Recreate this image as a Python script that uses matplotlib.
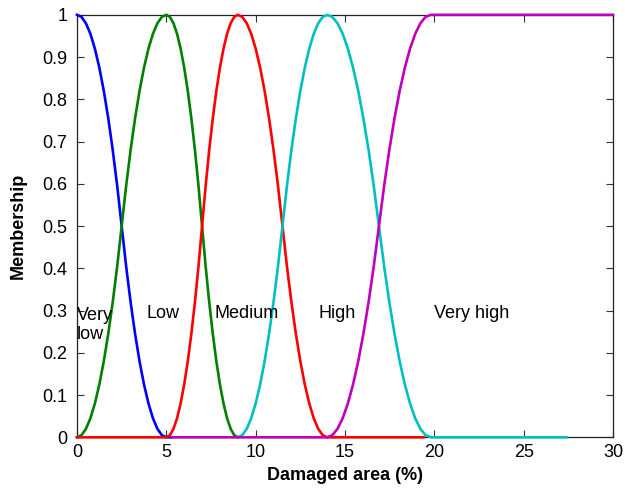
import matplotlib.pyplot as plt

plt.rcParams['font.family'] = ['Liberation Sans', 'DejaVu Sans']
plt.rcParams['font.size'] = 13

# membership readings along one S-shaped flank (0 -> 1)
rise = [0, 0.005, 0.02, 0.045, 0.08, 0.125, 0.18, 0.245, 0.32, 0.405, 0.5,
        0.595, 0.68, 0.755, 0.82, 0.875, 0.92, 0.955, 0.98, 0.995, 1]
fall = rise[::-1]

very_low_x = [0, 0.25, 0.5, 0.75, 1, 1.25, 1.5, 1.75, 2, 2.25, 2.5, 2.75, 3,
              3.25, 3.5, 3.75, 4, 4.25, 4.5, 4.75, 5, 5.3]
very_low_y = fall + [0]

low_x = [0, 0.25, 0.5, 0.75, 1, 1.25, 1.5, 1.75, 2, 2.25, 2.5, 2.75, 3,
         3.25, 3.5, 3.75, 4, 4.25, 4.5, 4.75, 5,
         5.2, 5.4, 5.6, 5.8, 6, 6.2, 6.4, 6.6, 6.8, 7, 7.2, 7.4, 7.6, 7.8,
         8, 8.2, 8.4, 8.6, 8.8, 9]
low_y = rise + fall[1:]

medium_x = [0, 5, 5.2, 5.4, 5.6, 5.8, 6, 6.2, 6.4, 6.6, 6.8, 7, 7.2, 7.4,
            7.6, 7.8, 8, 8.2, 8.4, 8.6, 8.8, 9,
            9.25, 9.5, 9.75, 10, 10.25, 10.5, 10.75, 11, 11.25, 11.5, 11.75,
            12, 12.25, 12.5, 12.75, 13, 13.25, 13.5, 13.75, 14, 19.4]
medium_y = [0] + rise + fall[1:] + [0]

high_x = [9, 9.25, 9.5, 9.75, 10, 10.25, 10.5, 10.75, 11, 11.25, 11.5, 11.75,
          12, 12.25, 12.5, 12.75, 13, 13.25, 13.5, 13.75, 14,
          14.29, 14.58, 14.87, 15.16, 15.45, 15.74, 16.03, 16.32, 16.61, 16.9,
          17.19, 17.48, 17.77, 18.06, 18.35, 18.64, 18.93, 19.22, 19.51, 19.8,
          27.4]
high_y = rise + fall[1:] + [0]

very_high_x = [5.3, 14, 14.29, 14.58, 14.87, 15.16, 15.45, 15.74, 16.03,
               16.32, 16.61, 16.9, 17.19, 17.48, 17.77, 18.06, 18.35, 18.64,
               18.93, 19.22, 19.51, 19.8, 30]
very_high_y = [0] + rise + [1]

labels = ["Very\nlow", "Low", "Medium", "High", "Very high"]
label_x = [0, 3.9, 7.7, 13.5, 20.0]
label_y = 0.283

fig = plt.figure(figsize=(6.25, 4.94), dpi=100)
ax = fig.add_axes([0.1232, 0.1148, 0.8576, 0.8552])

lw = 1.9
series = [(very_low_x, very_low_y, (0, 0, 1)),
          (low_x, low_y, (0, 0.5, 0)),
          (medium_x, medium_y, (1, 0, 0)),
          (high_x, high_y, (0, 0.75, 0.75)),
          (very_high_x, very_high_y, (0.75, 0, 0.75))]
for xs, ys, c in series:
    ax.plot(xs, ys, color=c, lw=lw, zorder=3, clip_on=False)

# first text line sits on label_y, extra lines go below it
for txt, xx in zip(labels, label_x):
    nlines = txt.count("\n")
    ax.annotate(txt, (xx, label_y), xytext=(0, -1.2 * 13 * nlines),
                textcoords='offset points', va='baseline', ha='left',
                fontsize=13)

ax.set_xlim(0, 30)
ax.set_ylim(0, 1)
ax.set_xticks([0, 5, 10, 15, 20, 25, 30])
ax.set_yticks([i / 10 for i in range(11)])
ax.set_yticklabels(["0", "0.1", "0.2", "0.3", "0.4", "0.5", "0.6", "0.7",
                    "0.8", "0.9", "1"])
ax.tick_params(direction='in', top=True, right=True, length=5, width=0.8,
               labelsize=13, color='#333333')
ax.tick_params(axis='x', pad=5)
ax.tick_params(axis='y', pad=7)
for sp in ax.spines.values():
    sp.set_color('#222222')
    sp.set_linewidth(0.9)

ax.set_xlabel("Damaged area (%)", fontweight='bold', fontsize=13, labelpad=4)
ax.set_ylabel("Membership", fontweight='bold', fontsize=13, labelpad=11)

fig.savefig("out.png", dpi=100)
